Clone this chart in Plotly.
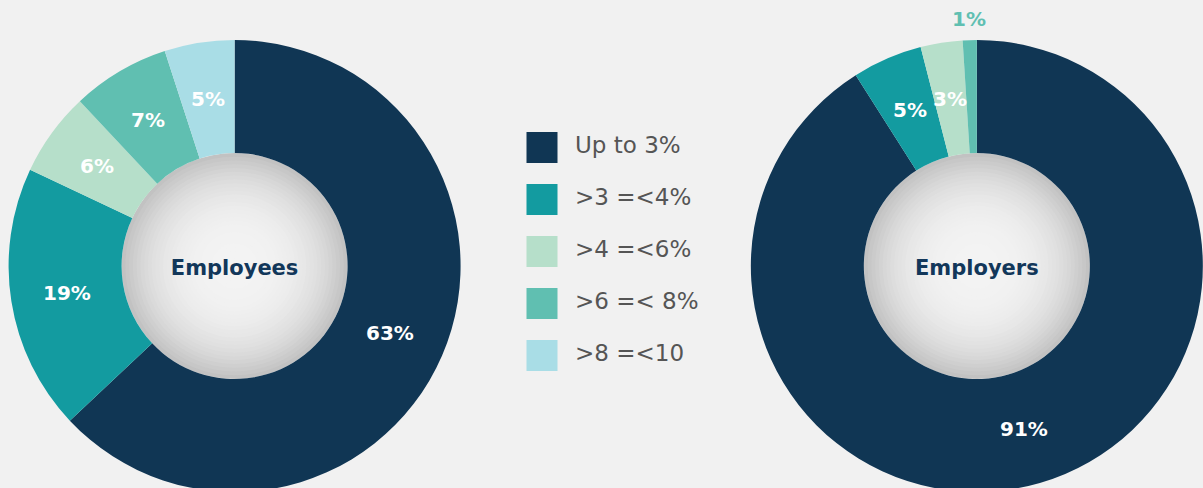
import math
import plotly.graph_objects as go

# ---- data ----
categories = ["Up to 3%", ">3 =<4%", ">4 =<6%", ">6 =< 8%", ">8 =<10"]
employees = [63, 19, 6, 7, 5]
employers_cats = ["Up to 3%", ">3 =<4%", ">4 =<6%", ">6 =< 8%"]
employers = [91, 5, 3, 1]
employers_label_pos = ["inside", "inside", "inside", "outside"]

colors = ["#103654", "#139ba0", "#b6dfca", "#60bfb1", "#a9dde6"]
BG = "#f1f1f1"
NAVY = "#12375a"

W, H = 1203, 492
MT = 40
plot_h = H - MT
R = plot_h / 2  # pie outer radius in px
LBL_FONT = "DejaVu Sans"

fig = go.Figure()

left_dom = [0.0, 0.39]
right_dom = [0.624, 1.0]

annotations = []


def add_pie(labels, values, dom, title, label_pos):
    fig.add_trace(go.Pie(
        labels=labels, values=values,
        marker=dict(colors=colors[:len(values)], line=dict(width=0)),
        hole=0.5, sort=False, direction="clockwise", rotation=0,
        textinfo="none", hoverinfo="skip", showlegend=False,
        domain=dict(x=dom, y=[0, 1]),
        title=dict(text=title, position="middle center",
                   font=dict(family=LBL_FONT, size=21, color=NAVY, weight=700)),
    ))
    cx = (dom[0] + dom[1]) / 2 * W
    cy = 0.5 * plot_h
    total = sum(values)
    cum = 0
    for v, c, pos in zip(values, colors, label_pos):
        th = 2 * math.pi * (cum + v / 2) / total
        cum += v
        r = 0.75 * R if pos == "inside" else R + 21
        x = cx + r * math.sin(th)
        y = cy + r * math.cos(th)
        annotations.append(dict(
            x=x / W, y=y / plot_h, xref="paper", yref="paper",
            text=f"{v}%", showarrow=False, xanchor="center", yanchor="middle",
            font=dict(family=LBL_FONT, size=20, weight=700,
                      color="white" if pos == "inside" else c),
        ))


add_pie(categories, employees, left_dom, "Employees", ["inside"] * len(employees))
add_pie(employers_cats, employers, right_dom, "Employers", employers_label_pos)

# ---- shaded hole (radial gradient approximation) ----
Rh = R * 0.5
shapes = []
for dom in (left_dom, right_dom):
    cx = (dom[0] + dom[1]) / 2
    cy = 0.5
    n = 30
    for i in range(n):
        f = 1 - i / n
        r = Rh * f
        g = int(round(243 - (243 - 194) * f ** 3.0))
        shapes.append(dict(
            type="circle", xref="paper", yref="paper", layer="below",
            x0=cx - r / W, x1=cx + r / W, y0=cy - r / plot_h, y1=cy + r / plot_h,
            fillcolor=f"rgb({g},{g},{g})", line=dict(width=0),
        ))

# ---- custom legend ----
rows = list(range(len(categories)))
fig.add_trace(go.Scatter(
    x=[542] * len(categories), y=rows, mode="markers",
    marker=dict(symbol="square", size=31, color=colors, line=dict(width=0)),
    hoverinfo="skip", showlegend=False, xaxis="x", yaxis="y",
))
fig.add_trace(go.Scatter(
    x=[575] * len(categories), y=rows, mode="text", text=categories,
    textposition="middle right",
    textfont=dict(family=LBL_FONT, size=23, color="#555555"),
    hoverinfo="skip", showlegend=False, xaxis="x", yaxis="y",
))

# y range: row 0 at 147.5px, 52px per row, plot top at MT
top_units = (147.5 - MT) / 52
span = plot_h / 52
x0p, x1p = 0.4, 0.6
fig.update_layout(
    width=W, height=H,
    margin=dict(l=0, r=0, t=MT, b=0),
    paper_bgcolor=BG, plot_bgcolor="rgba(0,0,0,0)",
    shapes=shapes, annotations=annotations,
    xaxis=dict(domain=[x0p, x1p], range=[x0p * W, x1p * W], visible=False, fixedrange=True),
    yaxis=dict(domain=[0, 1], range=[span - top_units, -top_units], visible=False, fixedrange=True),
)

fig.write_html(
    "out.html",
    post_script="document.documentElement.style.overflow='hidden';document.body.style.overflow='hidden';document.body.style.margin='0';",
)
